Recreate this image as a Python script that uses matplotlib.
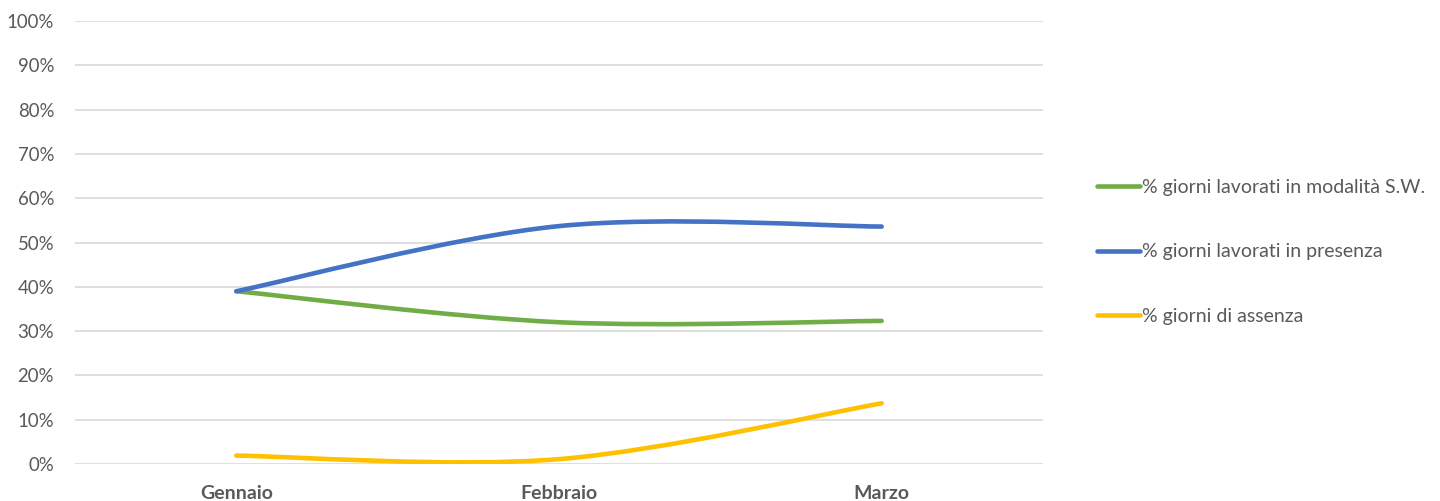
import numpy as np
import matplotlib.pyplot as plt
from matplotlib.path import Path
from matplotlib.patches import PathPatch
from matplotlib.lines import Line2D

months = ["Gennaio", "Febbraio", "Marzo"]
smart_working = [39.0, 32.0, 32.3]
presenza = [39.0, 53.7, 53.6]
assenza = [1.9, 1.1, 13.7]

labels = [
    "% giorni lavorati in modalità S.W.",
    "% giorni lavorati in presenza",
    "% giorni di assenza",
]
colors = ["#70AD47", "#4472C4", "#FFC000"]

plt.rcParams["font.family"] = ["Lato", "DejaVu Sans"]


def smooth_path(xs, ys):
    # Excel-like smoothed line: cubic bezier through every point
    pts = np.column_stack([xs, ys]).astype(float)
    n = len(pts)
    verts = [pts[0]]
    codes = [Path.MOVETO]
    for i in range(n - 1):
        p0 = pts[max(i - 1, 0)]
        p1 = pts[i]
        p2 = pts[i + 1]
        p3 = pts[min(i + 2, n - 1)]
        c1 = p1 + (p2 - p0) / 6
        c2 = p2 - (p3 - p1) / 6
        verts += [c1, c2, p2]
        codes += [Path.CURVE4] * 3
    return Path(verts, codes)


fig = plt.figure(figsize=(14.4, 5.01), dpi=100)
ax = fig.add_axes([75 / 1440, 1 - 464 / 501, (1043 - 75) / 1440, (464 - 21) / 501])

x = np.arange(len(months))
series = [smart_working, presenza, assenza]
for vals, c in zip(series, colors):
    ax.add_patch(PathPatch(smooth_path(x, vals), fill=False, edgecolor=c,
                           lw=3.3, capstyle="round", joinstyle="round", zorder=3))

ax.set_xlim(-0.5, 2.5)
ax.set_ylim(0, 100)
ax.set_yticks(range(0, 101, 10))
ax.set_yticklabels([f"{v}%" for v in range(0, 101, 10)])
ax.set_xticks(x)
ax.set_xticklabels(months, fontweight="bold")
ax.grid(axis="y", color="#D9D9D9", lw=1.2)
ax.set_axisbelow(True)
for s in ax.spines.values():
    s.set_visible(False)
ax.tick_params(axis="both", length=0, colors="#595959")
ax.tick_params(axis="y", pad=15, labelsize=13.4)
ax.tick_params(axis="x", pad=15, labelsize=14)

handles = [Line2D([], [], color=c, lw=3.3, solid_capstyle="round") for c in colors]
fig.legend(handles, labels, loc="center left", bbox_to_anchor=(1097 / 1440, 1 - 252 / 501),
           frameon=False, fontsize=14, labelcolor="#595959", handlelength=2.2,
           handletextpad=0.1, labelspacing=2.45, borderaxespad=0, borderpad=0)

fig.savefig("out.png", dpi=100)
